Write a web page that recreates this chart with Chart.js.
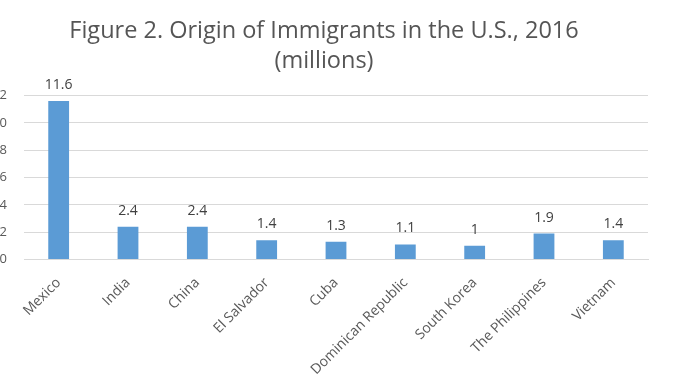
<!DOCTYPE html>
<html><head><meta charset="utf-8">
<script src="https://cdn.jsdelivr.net/npm/chart.js@4/dist/chart.umd.min.js"></script>
<style>
html,body{margin:0;padding:0;background:#fff;overflow:hidden;width:678px;height:381px;}
#wrap{position:absolute;left:0;top:0;width:678px;height:381px;}
</style></head><body>
<div id="wrap"><canvas id="c"></canvas></div>
<script>
const categories = ["Mexico","India","China","El Salvador","Cuba","Dominican Republic","South Korea","The Philippines","Vietnam"];
const immigrants = [11.6, 2.4, 2.4, 1.4, 1.3, 1.1, 1, 1.9, 1.4];
const valueLabels = ["11.6","2.4","2.4","1.4","1.3","1.1","1","1.9","1.4"];
const yTicks = [0, 2, 4, 6, 8, 10, 12];
const titleLines = ["Figure 2. Origin of Immigrants in the U.S., 2016", "(millions)"];

const FONT = "'Open Sans', sans-serif";

const valueLabelPlugin = {
  id: 'valueLabels',
  afterDatasetsDraw(chart) {
    const ctx = chart.ctx;
    const meta = chart.getDatasetMeta(0);
    ctx.save();
    ctx.font = "14px " + FONT;
    ctx.fillStyle = "#404040";
    ctx.textAlign = "center";
    ctx.textBaseline = "alphabetic";
    meta.data.forEach((bar, i) => {
      ctx.fillText(valueLabels[i], bar.x, bar.y - 12);
    });
    ctx.restore();
  }
};

new Chart(document.getElementById('c'), {
  type: 'bar',
  data: {
    labels: categories,
    datasets: [{
      data: immigrants,
      backgroundColor: '#5B9BD5',
      borderWidth: 0,
      barPercentage: 0.3,
      categoryPercentage: 1
    }]
  },
  options: {
    responsive: true,
    maintainAspectRatio: false,
    animation: false,
    devicePixelRatio: 1,
    layout: { padding: { left: 0, right: 30, top: 0, bottom: 0 } },
    plugins: {
      legend: { display: false },
      tooltip: { enabled: false },
      title: {
        display: true,
        text: titleLines,
        color: '#555555',
        font: { family: FONT, size: 23.5, weight: 'normal', lineHeight: '30px' },
        padding: { top: 16, bottom: 19.5 }
      }
    },
    scales: {
      x: {
        grid: { display: false, drawTicks: false },
        border: { display: true, color: '#D9D9D9', width: 1 },
        ticks: {
          color: '#595959',
          font: { family: FONT, size: 14 },
          minRotation: 45,
          maxRotation: 45,
          autoSkip: false,
          padding: 15
        },
        afterFit(scale) { scale.height = 121.5; }
      },
      y: {
        min: 0,
        max: 12,
        afterBuildTicks(scale) { scale.ticks = yTicks.map(v => ({ value: v })); },
        grid: { color: '#D9D9D9', lineWidth: 1, drawTicks: false },
        border: { display: false },
        ticks: {
          color: '#595959',
          font: { family: FONT, size: 13 },
          padding: 17
        },
        afterFit(scale) { scale.width = 24; }
      }
    }
  },
  plugins: [valueLabelPlugin]
});
</script>
</body></html>
